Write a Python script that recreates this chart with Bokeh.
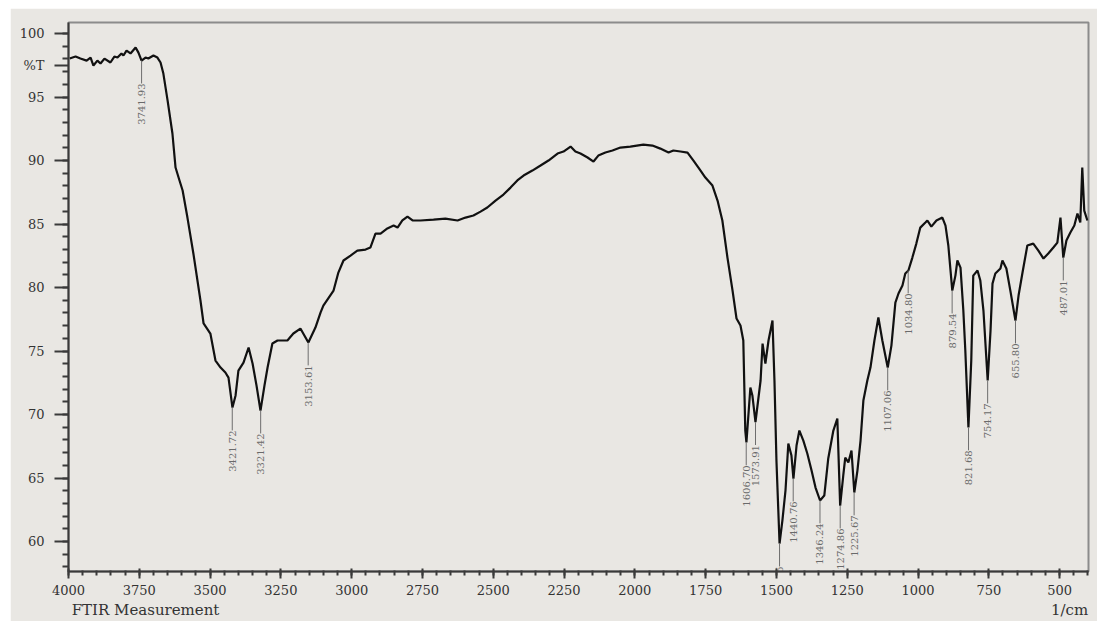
import math
from bokeh.plotting import figure
from bokeh.models import Range1d, FixedTicker, ColumnDataSource, LinearAxis
from bokeh.embed import file_html
from bokeh.resources import INLINE
from bokeh.core.properties import value

# ---------------- data ----------------
wavenumber = [
    3996, 3975, 3958, 3936, 3922, 3912, 3898, 3887, 3873, 3852, 3838, 3827, 3813, 3806,
    3795, 3781, 3763, 3753, 3742, 3728, 3718, 3700, 3686, 3675, 3665, 3650, 3633, 3622,
    3608, 3597, 3580, 3559, 3534, 3523, 3499, 3481, 3463, 3446, 3435, 3421, 3410, 3400,
    3382, 3364, 3350, 3336, 3322, 3308, 3297, 3280, 3262, 3227, 3206, 3181, 3167, 3153,
    3128, 3110, 3100, 3064, 3047, 3029, 3004, 2980, 2951, 2934, 2916, 2898, 2874, 2852,
    2838, 2821, 2803, 2785, 2757, 2711, 2669, 2626, 2598, 2570, 2545, 2521, 2492, 2464,
    2439, 2415, 2393, 2362, 2333, 2305, 2273, 2252, 2227, 2210, 2192, 2167, 2146, 2129,
    2104, 2079, 2051, 2016, 1970, 1938, 1910, 1881, 1864, 1839, 1814, 1793, 1768, 1751,
    1726, 1708, 1691, 1673, 1655, 1641, 1627, 1617, 1610, 1606, 1592, 1585, 1574, 1556,
    1549, 1539, 1528, 1514, 1507, 1500, 1489, 1479, 1468, 1458, 1447, 1440, 1429, 1419,
    1405, 1391, 1376, 1362, 1346, 1331, 1317, 1299, 1285, 1275, 1264, 1257, 1246, 1235,
    1225, 1214, 1203, 1193, 1179, 1168, 1154, 1140, 1126, 1107, 1094, 1080, 1069, 1055,
    1045, 1034, 1020, 1006, 992, 974, 967, 953, 935, 914, 903, 893, 879, 868, 861, 850,
    840, 833, 822, 812, 805, 790, 780, 769, 754, 744, 737, 727, 709, 702, 688, 674, 656,
    645, 631, 614, 593, 575, 557, 540, 522, 508, 497, 487, 476, 462, 448, 437, 427, 420,
    413, 402,
]
transmittance = [
    98.03, 98.19, 98.03, 97.87, 98.11, 97.48, 97.87, 97.64, 98.03, 97.72, 98.19, 98.11, 98.43, 98.27,
    98.66, 98.43, 98.90, 98.50, 97.87, 98.11, 98.03, 98.27, 98.11, 97.72, 96.85, 94.72, 92.13, 89.45,
    88.43, 87.64, 85.51, 82.68, 78.98, 77.17, 76.38, 74.25, 73.70, 73.31, 72.91, 70.55, 71.50, 73.46,
    74.09, 75.28, 74.02, 72.28, 70.31, 72.28, 73.70, 75.59, 75.83, 75.83, 76.38, 76.77, 76.22, 75.67,
    76.85, 78.03, 78.58, 79.76, 81.18, 82.13, 82.52, 82.91, 82.99, 83.15, 84.25, 84.25, 84.65, 84.88,
    84.72, 85.28, 85.59, 85.28, 85.28, 85.35, 85.43, 85.28, 85.51, 85.67, 85.98, 86.30, 86.85, 87.32,
    87.87, 88.43, 88.82, 89.21, 89.61, 90.00, 90.55, 90.71, 91.10, 90.71, 90.55, 90.24, 89.92, 90.39,
    90.63, 90.79, 91.02, 91.10, 91.26, 91.18, 90.94, 90.63, 90.79, 90.71, 90.63, 90.00, 89.21, 88.66,
    88.03, 86.85, 85.28, 82.36, 79.76, 77.56, 77.01, 75.83, 68.74, 67.80, 72.13, 71.50, 69.40, 72.68,
    75.59, 74.02, 75.83, 77.40, 72.68, 66.38, 59.84, 61.65, 64.02, 67.72, 66.77, 64.96, 67.56, 68.74,
    67.95, 66.93, 65.59, 64.25, 63.23, 63.62, 66.54, 68.74, 69.69, 62.83, 65.20, 66.61, 66.22, 67.17,
    63.86, 65.59, 67.95, 71.10, 72.68, 73.70, 75.83, 77.64, 75.83, 73.70, 75.43, 78.82, 79.53, 80.16,
    81.10, 81.34, 82.36, 83.46, 84.72, 85.12, 85.28, 84.80, 85.28, 85.51, 84.88, 83.31, 79.76, 80.94, 82.13, 81.57,
    78.19, 75.04, 68.98, 74.25, 80.94, 81.34, 80.55, 78.19, 72.68, 76.61, 80.31, 81.10, 81.50, 82.13, 81.50, 79.76, 77.40,
    79.37, 81.18, 83.31, 83.46, 82.91, 82.28, 82.68, 83.15, 83.54, 85.51, 82.36, 83.70, 84.33, 84.88, 85.83, 85.12, 89.45,
    86.06, 85.28,
]

peak_wavenumber = [3741.93, 3421.72, 3321.42, 3153.61, 1606.70, 1573.91, 1489.05, 1440.76,
                   1346.24, 1274.86, 1225.67, 1107.06, 1034.80, 879.54, 821.68, 754.17,
                   655.80, 487.01]
peak_transmittance = [97.87, 70.55, 70.31, 75.67, 67.80, 69.40, 59.84, 64.96,
                      63.23, 62.83, 63.86, 73.70, 81.34, 79.76, 68.98, 72.68,
                      77.40, 82.36]
peak_text = [f"{w:.2f}" for w in peak_wavenumber]

x_tick_values = [4000, 3750, 3500, 3250, 3000, 2750, 2500, 2250, 2000, 1750, 1500, 1250, 1000, 750, 500]
x_tick_labels = ["4000", "3750", "3500", "3250", "3000", "2750", "2500", "2250", "2000",
                 "1750", "1500", "1250", "1000", "750", "500"]
y_tick_values = [60, 65, 70, 75, 80, 85, 90, 95, 97.5, 100]
y_tick_labels = ["60", "65", "70", "75", "80", "85", "90", "95", "%T", "100"]

footer_positions = [3728, 465]
footer_labels = ["FTIR Measurement", "1/cm"]

# ---------------- figure ----------------
BG = "#e9e7e3"
INK = "#333333"
SERIF = "DejaVu Serif"

p = figure(width=1087, height=613, output_backend="svg", toolbar_location=None,
           x_range=Range1d(4000, 398), y_range=Range1d(57.64, 100.87),
           min_border_left=58, min_border_right=9, min_border_top=14, min_border_bottom=50,
           margin=(8, 0, 0, 10))
p.background_fill_color = BG
p.border_fill_color = BG
p.outline_line_color = "#8c8c8c"
p.outline_line_width = 2
p.grid.visible = False

p.xaxis.ticker = FixedTicker(ticks=x_tick_values, minor_ticks=list(range(400, 4001, 50)))
p.xaxis.major_label_overrides = dict(zip(x_tick_values, x_tick_labels))
p.yaxis.ticker = FixedTicker(ticks=y_tick_values, minor_ticks=list(range(58, 101)))
p.yaxis.major_label_overrides = dict(zip(y_tick_values, y_tick_labels))

for ax in (p.xaxis, p.yaxis):
    ax.axis_line_color = "#3a3a3a"
    ax.axis_line_width = 2
    ax.major_tick_line_color = "#3a3a3a"
    ax.minor_tick_line_color = "#3a3a3a"
    ax.major_tick_line_width = 2
    ax.minor_tick_line_width = 2
    ax.major_label_text_font = SERIF
    ax.major_label_text_font_size = "13px"
    ax.major_label_text_color = INK

p.xaxis.major_tick_in = 3
p.xaxis.major_tick_out = 7
p.xaxis.minor_tick_in = 1
p.xaxis.minor_tick_out = 4
p.xaxis.major_label_standoff = 6

p.yaxis.major_tick_in = 0
p.yaxis.major_tick_out = 14
p.yaxis.minor_tick_in = 0
p.yaxis.minor_tick_out = 6
p.yaxis.major_label_standoff = 10

# footer texts via a tick-less second axis below
footer = LinearAxis(ticker=FixedTicker(ticks=footer_positions, minor_ticks=[]),
                    major_label_overrides=dict(zip(footer_positions, footer_labels)),
                    axis_line_color=None, major_tick_line_color=None, minor_tick_line_color=None,
                    major_tick_out=0, major_tick_in=0, major_label_standoff=3,
                    major_label_text_font=SERIF, major_label_text_font_size="15px",
                    major_label_text_color=INK)
p.add_layout(footer, "below")

# spectrum
p.line(wavenumber, transmittance, line_color="#111111", line_width=2.2)

# peak markers and labels
gap = 1.8
src = ColumnDataSource(dict(
    x=peak_wavenumber,
    y0=peak_transmittance,
    y1=[t - gap for t in peak_transmittance],
    txt=peak_text,
))
p.segment(x0="x", y0="y0", x1="x", y1="y1", source=src, line_color="#6e6e6e", line_width=1)
p.text(x="x", y="y1", text="txt", source=src, angle=math.pi / 2,
       text_align="right", text_baseline="middle",
       text_font=value(SERIF), text_font_size="10px", text_color="#6a6a6a")

open("out.html", "w").write(file_html(p, INLINE))
